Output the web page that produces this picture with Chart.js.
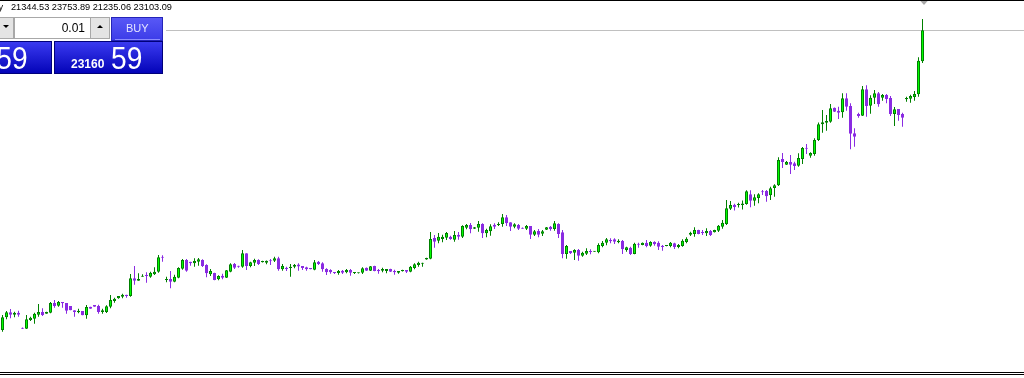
<!DOCTYPE html>
<html><head><meta charset="utf-8">
<script src="https://cdn.jsdelivr.net/npm/chart.js@4.4.0/dist/chart.umd.min.js"></script>
<style>
html,body{margin:0;padding:0;background:#fff;overflow:hidden;width:1024px;height:378px;}
#wrap{position:relative;width:1024px;height:378px;overflow:hidden;}
canvas{position:absolute;left:0;top:0;}
.a{position:absolute;box-sizing:border-box;}
.t{position:absolute;white-space:pre;font-family:"Liberation Sans",Arial,sans-serif;line-height:1;}
</style></head><body>
<div id="wrap">
<canvas id="c" width="1024" height="378"></canvas>
<div class="a" style="left:0;top:0;width:1024px;height:1px;background:#000"></div>
<div class="a" style="left:0;top:372px;width:1024px;height:1px;background:#000"></div>
<div class="a" style="left:0;top:374px;width:1024px;height:1px;background:#000"></div>
<div class="t" style="left:-1.5px;top:3.2px;font-size:9.2px;color:#000">y</div>
<div class="t" id="ohlc" style="left:11px;top:3.2px;font-size:9.2px;color:#000"></div>
<!-- trade panel -->
<div class="a" style="left:-10px;top:17px;width:24px;height:22px;background:#E4E4E4;border:1px solid #A8A8A8"></div>
<div class="a" style="left:3px;top:25px;width:0;height:0;border-left:3px solid transparent;border-right:3px solid transparent;border-top:3px solid #000"></div>
<div class="a" style="left:14px;top:17px;width:77px;height:22px;background:#fff;border:1px solid #A8A8A8"></div>
<div class="t" id="lot" style="right:939px;top:21.8px;font-size:12px;color:#000"></div>
<div class="a" style="left:90px;top:17px;width:20px;height:22px;background:#E4E4E4;border:1px solid #A8A8A8"></div>
<div class="a" style="left:97px;top:25px;width:0;height:0;border-left:3px solid transparent;border-right:3px solid transparent;border-bottom:3px solid #000"></div>
<div class="a" style="left:111px;top:17px;width:52px;height:24px;background:linear-gradient(#5858F6,#3C3CE8);border:1px solid #2424B8"></div>
<div class="t" style="left:126px;top:22.7px;font-size:11px;color:#E4E4FF">BUY</div>
<div class="a" style="left:115px;top:39px;width:45px;height:1px;background:#8C8CFF"></div>
<div class="a" style="left:-60px;top:41px;width:112px;height:33px;background:linear-gradient(#3A3AF0,#0404B8);border:1px solid #00007A"></div>
<div class="t" style="right:996px;top:41.9px;font-size:32px;color:#fff;transform:scaleX(0.88);transform-origin:right top">59</div>
<div class="a" style="left:54px;top:41px;width:109px;height:33px;background:linear-gradient(#3A3AF0,#0404B8);border:1px solid #00007A"></div>
<div class="t" id="askBig" style="left:71px;top:57.8px;font-size:12px;font-weight:bold;color:#fff"></div>
<div class="t" style="left:111px;top:41.9px;font-size:32px;color:#fff;transform:scaleX(0.88);transform-origin:left top">59</div>
</div>
<script>
const opens=[6020,6744,7029,6892,7006,6151,6094,6590,6664,6892,7046,6949,7006,7559,7405,7616,7559,7388,7143,7029,7103,6858,7348,7445,7388,7046,7046,7348,7673,7827,7918,8032,7958,8967,8830,9058,9155,9058,9195,9343,10198,8870,8927,8773,9001,9514,10010,9913,9822,9913,10010,9725,9195,9269,8910,9115,9001,9343,9782,9685,9628,10392,9668,9856,10010,9879,9856,9970,9970,10107,9480,9571,9554,9628,9753,9668,9594,9554,9457,9913,9822,9497,9440,9326,9269,9400,9309,9440,9269,9252,9286,9571,9400,9668,9440,9400,9383,9497,9383,9286,9366,9440,9343,9554,9725,9799,10039,10084,11264,11110,11207,11281,11338,11167,11452,11338,11851,12005,11794,11851,12062,11532,11646,12022,12005,12062,12444,12159,11908,12005,11851,11794,11948,11452,11663,11509,11737,11908,11777,12062,11589,10352,10523,10426,10580,10255,10369,10523,10483,10449,10808,10996,11150,11190,11019,11093,10580,10711,10352,10939,10865,10996,10825,11036,10996,10825,10808,10808,10962,10751,10808,11036,11452,11492,11720,11606,11532,11663,11589,11680,11908,12062,12934,13162,13145,13145,13202,13755,13390,13544,13926,13943,13698,14114,14268,15767,15442,15596,15522,15385,15767,16411,15955,16052,16850,17745,17836,17893,18691,18520,18429,19227,18788,17232,18332,18235,19740,18805,19261,19512,19261,19415,19244,18332,18617,18332,19170,19204,19301,19455,21344.53];
const highs=[6875,7103,7217,7063,7120,6161,6875,6778,7006,7502,7257,7060,7616,7730,7673,7616,7559,7388,7143,7234,7103,7445,7348,7445,7462,7234,7428,8015,7861,7958,8089,8032,9212,9668,9252,9195,9309,9343,9594,10295,10278,9058,9383,9172,9594,10067,10067,9913,10107,10124,10050,9765,9497,9290,9138,9229,9440,9822,9839,9685,10580,10392,9913,10084,10050,9965,9980,10067,10198,10198,9782,9628,9782,9782,9822,9668,9628,9554,10010,9953,9879,9537,9480,9326,9440,9440,9497,9497,9309,9300,9594,9580,9668,9680,9497,9571,9497,9510,9457,9383,9450,9440,9668,9822,9913,9850,10135,11606,11435,11549,11452,11606,11395,11663,11606,11988,12062,12119,11890,12233,12102,11794,12045,12102,12159,12632,12575,12159,12102,12062,11860,12005,11948,11720,11777,11720,11890,11948,12233,12102,11720,10865,10523,10620,10637,10483,10677,10620,10530,10962,11093,11264,11247,11247,11190,11150,10768,10768,10996,10996,11005,11150,11076,11076,11076,10865,10855,11036,10996,10922,11190,11304,11623,11874,11730,11720,11817,11720,11730,12005,12290,13430,13373,13219,13280,13402,13983,13983,13755,13812,14000,14000,14188,14325,15864,16109,15653,15995,15613,16092,16451,16622,16149,16947,17850,18560,18275,18902,18700,18748,19512,19512,18942,17517,18406,19928,19968,19398,19700,19586,19472,19472,19358,18731,18617,18406,19318,19432,19643,21564,23753.89];
const lows=[5923,6630,6687,6744,6778,6077,6077,6533,6379,6778,6818,6940,6972,7291,7348,7291,6949,7143,6778,6972,6858,6664,7234,7348,6949,6949,6989,7257,7576,7804,7827,7861,7918,8602,8830,9058,8716,9001,9155,9286,9913,8739,8397,8739,8967,9457,9343,9685,9628,9685,9611,9024,9098,8850,8853,8910,8990,9309,9497,9571,9571,9440,9594,9668,9725,9870,9765,9725,9896,9400,9400,9383,9058,9537,9400,9440,9400,9480,9423,9725,9343,9155,9229,9212,9172,9212,9252,9115,9212,9240,9212,9390,9383,9370,9229,9309,9252,9330,9172,9229,9355,9269,9309,9480,9628,9628,10030,10050,10711,10962,11019,11150,11167,11053,11167,11264,11760,11532,11780,11623,11264,11304,11395,11777,11948,11908,11948,11663,11817,11720,11785,11720,11207,11378,11304,11378,11725,11680,11680,11264,10107,10084,10352,10010,9970,10198,10295,10335,10475,10392,10734,10848,10962,10922,10962,10352,10483,10295,10335,10711,10855,10734,10768,10825,10580,10540,10800,10734,10637,10677,10768,10962,11378,11338,11480,11435,11378,11378,11580,11606,11794,12005,12860,12832,13000,12889,13162,13014,13105,13242,13715,13333,13430,13618,14228,15254,15425,14912,15140,15328,15482,16052,15841,15955,16800,17266,17380,17836,18450,18047,18121,18520,16320,16468,18121,18218,18178,18349,18902,18748,19090,18942,18218,17648,17950,17608,19033,18976,19090,19318,21235.06];
const closes=[6744,7029,6892,7006,6892,6094,6630,6721,6949,7046,6875,7046,7559,7388,7616,7542,7120,7143,7046,7120,6858,7331,7234,7348,7046,7143,7371,7730,7804,7958,8032,7958,8967,8830,8927,9115,9098,9286,9343,10164,10141,8927,8773,9058,9554,10010,9400,9822,9953,10050,9668,9252,9383,8870,9098,9001,9423,9765,9571,9628,10392,9668,9879,10010,9782,9953,9970,9936,10107,9480,9668,9497,9628,9725,9639,9554,9480,9480,9879,9782,9480,9309,9309,9269,9383,9286,9440,9286,9309,9286,9537,9400,9651,9383,9366,9497,9497,9343,9309,9383,9440,9343,9628,9765,9856,9839,10124,11207,11053,11338,11338,11549,11207,11435,11338,11948,12005,11760,11874,12062,11532,11720,11931,11908,12062,12444,12102,11908,12045,11794,11794,11948,11452,11646,11452,11646,11874,11777,12102,11492,10352,10808,10392,10580,10255,10426,10523,10466,10523,10865,10996,11190,11076,11053,11110,10620,10734,10352,10939,10882,10996,10808,11036,10905,10768,10751,10848,10996,10751,10865,11110,11224,11566,11720,11492,11549,11663,11435,11720,11965,12136,12957,13145,13031,13202,13231,13926,13390,13584,13755,13869,13641,14097,14268,15710,15596,15596,15442,15368,15824,16394,16354,16109,16850,17745,17859,17933,18657,18463,18406,19227,18748,17209,17038,18218,19740,18788,19261,19512,18885,19415,19187,18332,18600,18275,18121,19244,19358,19472,21370,23103.09];
const askPrice="23160.59";
const lotSize="0.01";

document.getElementById('ohlc').textContent=[opens,highs,lows,closes].map(a=>a[a.length-1].toFixed(2)).join(' ');
document.getElementById('lot').textContent=lotSize;
document.getElementById('askBig').textContent=askPrice.split('.')[0].slice(0,5);

const BULL_FILL='#00FF00', BULL_LINE='#008000', BEAR='#8A2BE2';
const idx=opens.map((_,i)=>i);
const isBull=i=>closes[i]>=opens[i];
const last=closes.length-1;

const decor={id:'decor',beforeDatasetsDraw(chart){
  const c=chart.ctx, xs=chart.scales.x, ys=chart.scales.y;
  const y=Math.floor(ys.getPixelForValue(closes[last]))+0.5;
  c.save();
  c.strokeStyle='#C0C0C0';c.lineWidth=1;
  c.beginPath();c.moveTo(166,y);c.lineTo(1024,y);c.stroke();
  const tx=xs.getPixelForValue(last)+1.5;
  c.fillStyle='#A8A8A8';
  c.beginPath();c.moveTo(tx-4.5,0);c.lineTo(tx+4.5,0);c.lineTo(tx,5);c.closePath();c.fill();
  c.restore();
}};

new Chart(document.getElementById('c'),{
  type:'bar',
  data:{datasets:[
    {label:'body',data:idx.map(i=>({x:i,y:[opens[i],closes[i]]})),
     barThickness:3,borderWidth:1,borderSkipped:false,inflateAmount:0,minBarLength:1,grouped:false,order:0,
     backgroundColor:c=>isBull(c.dataIndex)?BULL_FILL:BEAR,
     borderColor:c=>isBull(c.dataIndex)?BULL_LINE:BEAR},
    {label:'wick',data:idx.map(i=>({x:i,y:[lows[i],highs[i]]})),
     barThickness:1,borderWidth:0,inflateAmount:0,grouped:false,order:1,
     backgroundColor:c=>isBull(c.dataIndex)?BULL_LINE:BEAR}
  ]},
  options:{responsive:false,animation:false,devicePixelRatio:1,layout:{padding:0},
    plugins:{legend:{display:false},tooltip:{enabled:false}},
    scales:{
      x:{type:'linear',display:false,min:-0.625,max:255.375,offset:false},
      y:{type:'linear',display:false,min:3284,max:24830}
    }},
  plugins:[decor]
});
</script>
</body></html>
